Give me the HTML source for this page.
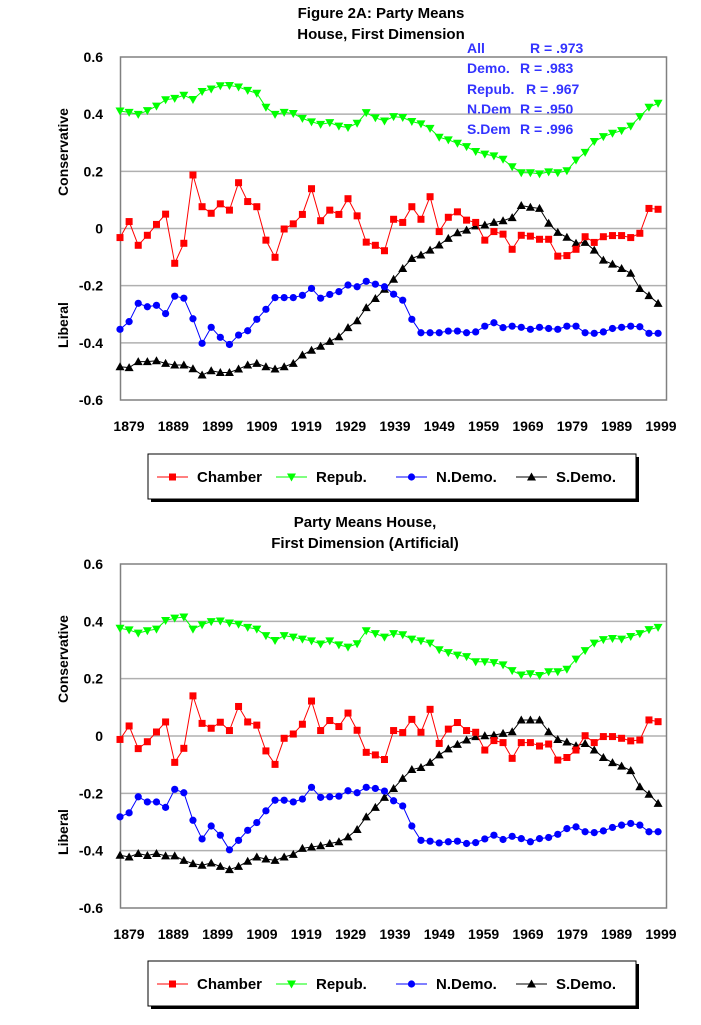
<!DOCTYPE html>
<html><head><meta charset="utf-8"><style>
html,body{margin:0;padding:0;background:#fff;}
svg text{font-family:"Liberation Sans",Arial,sans-serif;font-weight:bold;}
</style></head><body>
<svg id="s" width="701" height="1020" xmlns="http://www.w3.org/2000/svg">
<text x="381" y="18" font-size="15" text-anchor="middle">Figure 2A: Party Means</text>
<text x="381" y="39" font-size="15" text-anchor="middle">House, First Dimension</text>
<g fill="#3333ff" font-size="14">
<text x="467" y="53">All</text><text x="530" y="53">R = .973</text>
<text x="467" y="73">Demo.</text><text x="520" y="73">R = .983</text>
<text x="467" y="94">Repub.</text><text x="526" y="94">R = .967</text>
<text x="467" y="114">N.Dem</text><text x="520" y="114">R = .950</text>
<text x="467" y="134">S.Dem</text><text x="520" y="134">R = .996</text>
</g>
<text x="365" y="527" font-size="15" text-anchor="middle">Party Means House,</text>
<text x="365" y="548" font-size="15" text-anchor="middle">First Dimension (Artificial)</text>
</svg>
<script>
var NS="http://www.w3.org/2000/svg",S=document.getElementById("s");
function el(t,a,p){var e=document.createElementNS(NS,t);for(var k in a)e.setAttribute(k,a[k]);(p||S).appendChild(e);return e;}
function txt(x,y,s,a){var e=el("text",Object.assign({x:x,y:y,"font-size":14},a||{}));e.textContent=s;return e;}
var D1={
ch:[-.03,.026,-.057,-.022,.016,.052,-.12,-.05,.189,.078,.055,.088,.066,.162,.096,.078,-.039,-.099,0,.018,.051,.141,.029,.066,.051,.106,.046,-.046,-.057,-.076,.034,.023,.078,.034,.113,-.009,.041,.06,.031,.023,-.039,-.009,-.018,-.071,-.022,-.025,-.036,-.036,-.095,-.093,-.071,-.027,-.047,-.027,-.023,-.023,-.03,-.015,.072,.069],
re:[.413,.408,.401,.414,.43,.452,.457,.468,.453,.481,.49,.501,.502,.497,.485,.475,.426,.401,.408,.404,.387,.375,.366,.372,.36,.355,.37,.407,.389,.378,.393,.39,.376,.368,.352,.321,.312,.3,.288,.271,.262,.256,.244,.218,.197,.197,.193,.2,.197,.204,.241,.268,.306,.323,.335,.344,.36,.393,.426,.44],
nd:[-.351,-.324,-.26,-.272,-.267,-.296,-.235,-.242,-.314,-.4,-.344,-.379,-.404,-.371,-.356,-.316,-.281,-.24,-.24,-.24,-.232,-.208,-.242,-.229,-.219,-.196,-.202,-.183,-.193,-.202,-.228,-.249,-.316,-.363,-.363,-.363,-.357,-.357,-.363,-.36,-.34,-.328,-.345,-.34,-.344,-.351,-.344,-.348,-.351,-.34,-.34,-.363,-.365,-.36,-.348,-.344,-.34,-.342,-.365,-.365],
sd:[-.482,-.485,-.464,-.464,-.461,-.47,-.476,-.476,-.489,-.511,-.496,-.502,-.502,-.49,-.476,-.47,-.482,-.49,-.482,-.47,-.441,-.424,-.41,-.393,-.377,-.345,-.321,-.275,-.243,-.211,-.176,-.138,-.103,-.091,-.074,-.056,-.033,-.013,-.004,.011,.014,.023,.029,.04,.082,.076,.072,.02,-.012,-.029,-.05,-.047,-.074,-.109,-.123,-.138,-.155,-.208,-.233,-.26]};
var D2={
ch:[-.012,.035,-.044,-.02,.014,.049,-.092,-.043,.14,.044,.027,.048,.019,.103,.049,.038,-.052,-.099,-.008,.007,.041,.122,.019,.054,.033,.08,.02,-.057,-.066,-.082,.019,.012,.058,.013,.093,-.026,.024,.047,.019,.013,-.049,-.016,-.023,-.078,-.023,-.023,-.035,-.028,-.084,-.075,-.049,.001,-.023,-.002,-.002,-.008,-.017,-.014,.056,.05],
re:[.376,.37,.359,.367,.373,.403,.411,.415,.373,.388,.399,.401,.394,.39,.379,.373,.35,.333,.35,.345,.338,.332,.321,.332,.318,.31,.322,.367,.357,.345,.357,.353,.338,.332,.324,.301,.291,.282,.277,.259,.259,.256,.248,.228,.213,.217,.211,.224,.224,.233,.268,.298,.324,.336,.34,.338,.347,.357,.371,.379],
nd:[-.282,-.268,-.212,-.23,-.23,-.249,-.186,-.198,-.294,-.359,-.314,-.346,-.397,-.364,-.329,-.302,-.261,-.224,-.224,-.23,-.22,-.179,-.214,-.212,-.21,-.191,-.198,-.179,-.183,-.192,-.226,-.244,-.314,-.364,-.367,-.373,-.369,-.367,-.375,-.372,-.359,-.346,-.361,-.35,-.358,-.369,-.358,-.354,-.343,-.323,-.317,-.334,-.337,-.331,-.319,-.311,-.305,-.311,-.334,-.334],
sd:[-.416,-.422,-.41,-.417,-.41,-.418,-.418,-.434,-.445,-.451,-.443,-.455,-.466,-.455,-.437,-.422,-.429,-.434,-.422,-.413,-.392,-.387,-.383,-.375,-.369,-.352,-.326,-.282,-.249,-.214,-.183,-.148,-.117,-.11,-.092,-.066,-.045,-.029,-.014,-.002,.001,.003,.009,.015,.056,.056,.056,.015,-.012,-.021,-.034,-.026,-.049,-.075,-.093,-.105,-.121,-.177,-.203,-.235]};
var COL={ch:"#ff0000",re:"#00ff00",nd:"#0000ff",sd:"#000000"};
function marker(k,x,y,g){var c=COL[k];
 if(k=="ch")el("rect",{x:x-3.5,y:y-3.5,width:7,height:7,fill:c},g);
 else if(k=="re")el("polygon",{points:(x-4.5)+","+(y-3.5)+" "+(x+4.5)+","+(y-3.5)+" "+x+","+(y+4.5),fill:c},g);
 else if(k=="nd")el("circle",{cx:x,cy:y,r:3.6,fill:c},g);
 else el("polygon",{points:(x-4.5)+","+(y+3.5)+" "+(x+4.5)+","+(y+3.5)+" "+x+","+(y-4.5),fill:c},g);}
function chart(top,zero,bot,D,legY){
 var L=120.5,R=666.5,sc=(bot-top)/1.2;
 for(var i=0;i<7;i++){var v=0.6-0.2*i,y=top+i*(bot-top)/6;
  if(i>0&&i<6)el("line",{x1:L,x2:R,y1:y,y2:y,stroke:"#b0b0b0","stroke-width":1.5});
  txt(103,y+5,v.toFixed(1).replace("-0.0","0").replace(/^0\.0$/,"0"),{"text-anchor":"end"});}
 el("rect",{x:L,y:top,width:R-L,height:bot-top,fill:"none",stroke:"#808080","stroke-width":1.5});
 for(var j=0;j<13;j++)txt(129+j*44.33,bot+31,String(1879+10*j),{"text-anchor":"middle"});
 txt(0,0,"Conservative",{transform:"translate(68,"+(top+95)+") rotate(-90)","text-anchor":"middle"});
 txt(0,0,"Liberal",{transform:"translate(68,"+(top+268)+") rotate(-90)","text-anchor":"middle"});
 ["re","sd","nd","ch"].forEach(function(k){var pts=D[k].map(function(v,i){return [120+i*9.12,zero-v*sc];});
  el("polyline",{points:pts.map(function(p){return p.join(",")}).join(" "),fill:"none",stroke:COL[k],"stroke-width":1});
  pts.forEach(function(p){marker(k,p[0],p[1]);});});
 el("rect",{x:151,y:legY+3,width:488,height:45,fill:"#000"});
 el("rect",{x:148,y:legY,width:488,height:45,fill:"#fff",stroke:"#000","stroke-width":1});
 var cy=legY+23,items=[["ch",157,"Chamber"],["re",276,"Repub."],["nd",396,"N.Demo."],["sd",516,"S.Demo."]];
 items.forEach(function(it){el("line",{x1:it[1],x2:it[1]+31,y1:cy,y2:cy,stroke:COL[it[0]],"stroke-width":1});
  marker(it[0],it[1]+15.5,cy);txt(it[1]+40,cy+5,it[2],{"font-size":15});});
}
chart(57,229,400,D1,454);
chart(564,736,908,D2,961);
</script>
</body></html>
